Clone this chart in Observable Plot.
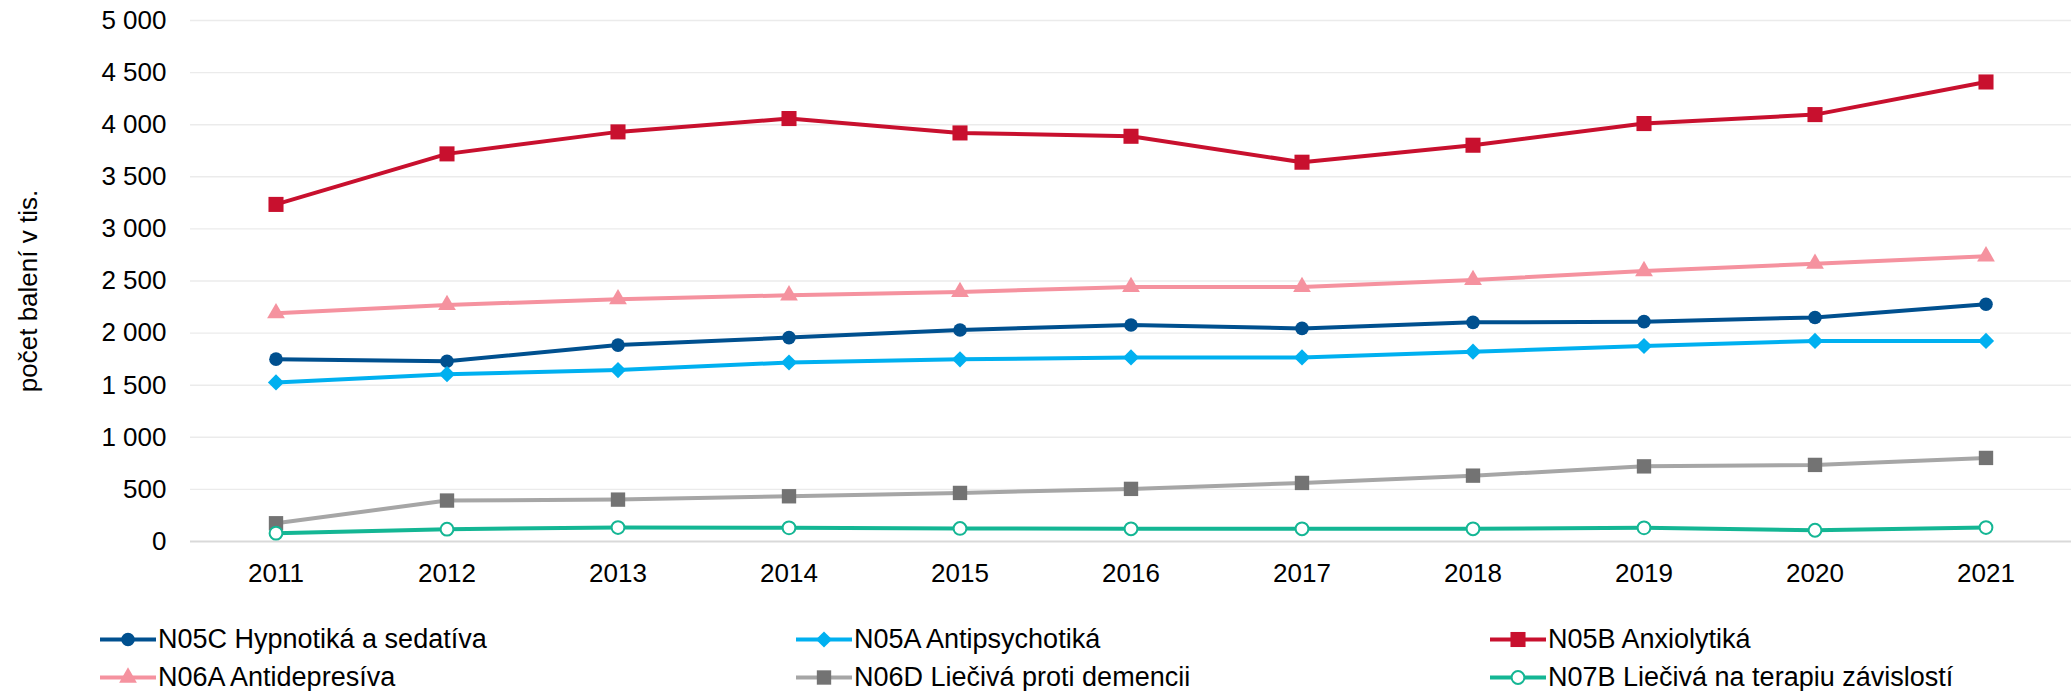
<!DOCTYPE html>
<html><head><meta charset="utf-8">
<script src="https://cdn.jsdelivr.net/npm/d3@7"></script>
<script src="https://cdn.jsdelivr.net/npm/@observablehq/plot@0.6"></script>
<style>
body{margin:0;background:#fff;font-family:"Liberation Sans",Arial,sans-serif;}
#chart{position:relative;width:2071px;height:691px;overflow:hidden;}
#legend{position:absolute;left:0;top:621px;width:2071px;height:74px;font-size:27px;color:#000;}
.item{position:absolute;display:flex;align-items:center;height:37px;white-space:nowrap;}
.item svg{margin-right:2px;display:block;}
</style></head><body><div id="chart"><div id="plot"></div><div id="legend"></div></div>
<script>
const years = [2011, 2012, 2013, 2014, 2015, 2016, 2017, 2018, 2019, 2020, 2021];
const seriesNames = [
  "N05C Hypnotiká a sedatíva",
  "N05A Antipsychotiká",
  "N05B Anxiolytiká",
  "N06A Antidepresíva",
  "N06D Liečivá proti demencii",
  "N07B Liečivá na terapiu závislostí"
];
const n05c = [1750, 1730, 1885, 1957, 2030, 2078, 2045, 2103, 2110, 2150, 2277];
const n05a = [1527, 1606, 1645, 1718, 1748, 1767, 1767, 1822, 1876, 1925, 1925];
const n05b = [3235, 3720, 3931, 4059, 3921, 3889, 3640, 3803, 4011, 4097, 4410];
const n06a = [2191, 2270, 2325, 2363, 2395, 2443, 2443, 2510, 2596, 2666, 2737];
const n06d = [175, 393, 402, 434, 466, 505, 562, 632, 721, 735, 802];
const n07b = [80, 118, 134, 131, 125, 122, 122, 122, 131, 108, 134];
const seriesValues = [n05c, n05a, n05b, n06a, n06d, n07b];
const yTicks = [0, 500, 1000, 1500, 2000, 2500, 3000, 3500, 4000, 4500, 5000];
const yTitle = "počet balení v tis.";

const lineColors   = ["#00508F", "#00B0F0", "#C8102E", "#F5929F", "#A6A6A6", "#14B694"];
const markerFills  = ["#00508F", "#00B0F0", "#C8102E", "#F5929F", "#737373", "#FFFFFF"];
const markerStroke = ["none", "none", "none", "none", "none", "#14B694"];
const markerSym    = ["circle", "diamond2", "square", "triangle", "square", "circle"];
const markerR      = [6.8, 7.3, 8.5, 6.6, 8.1, 6.4];

const fmt = d => d3.format(",")(d).replace(/,/g, "\u00a0");

const marks = [
  Plot.ruleY(yTicks.filter(d => d > 0), {stroke: "#EBEBEB", strokeWidth: 1.4}),
  Plot.ruleY([0], {stroke: "#D9D9D9", strokeWidth: 2}),
  Plot.axisY(yTicks, {tickSize: 0, tickPadding: 24, tickFormat: fmt, label: null}),
  Plot.axisX(years, {tickSize: 0, tickPadding: 22, tickFormat: d => String(d), label: null}),
  Plot.text([yTitle], {frameAnchor: "left", rotate: -90, dx: -162, dy: 10, textAnchor: "middle", lineAnchor: "middle", fill: "#000"})
];
seriesNames.forEach((name, i) => {
  const rows = years.map((y, j) => ({year: y, value: seriesValues[i][j], series: name}));
  marks.push(Plot.line(rows, {x: "year", y: "value", stroke: lineColors[i], strokeWidth: 4, strokeLinejoin: "round"}));
  marks.push(Plot.dot(rows, {x: "year", y: "value", symbol: markerSym[i], r: markerR[i], fill: markerFills[i], stroke: markerStroke[i], strokeWidth: markerStroke[i] === "none" ? 0 : 2}));
});

const chart = Plot.plot({
  width: 2071,
  height: 600,
  marginLeft: 190,
  marginRight: 0,
  marginTop: 20,
  marginBottom: 59,
  style: {fontSize: "26px", fontFamily: "'Liberation Sans', Arial, sans-serif", color: "#000", background: "#fff"},
  x: {type: "linear", domain: [2010.5, 2021.5]},
  y: {domain: [0, 5000]},
  marks
});
document.getElementById("plot").appendChild(chart);

// legend
const symMap = {circle: d3.symbolCircle, diamond2: d3.symbolDiamond2, square: d3.symbolSquare, triangle: d3.symbolTriangle};
const legendLeft = [100, 796, 1490];
const legend = document.getElementById("legend");
seriesNames.forEach((name, i) => {
  const col = i % 3, row = Math.floor(i / 3);
  const item = document.createElement("div");
  item.className = "item";
  item.style.left = legendLeft[col] + "px";
  item.style.top = (row * 38) + "px";
  const ns = "http://www.w3.org/2000/svg";
  const svg = document.createElementNS(ns, "svg");
  svg.setAttribute("width", 56); svg.setAttribute("height", 37);
  const ln = document.createElementNS(ns, "line");
  ln.setAttribute("x1", 0); ln.setAttribute("x2", 56); ln.setAttribute("y1", 18.5); ln.setAttribute("y2", 18.5);
  ln.setAttribute("stroke", lineColors[i]); ln.setAttribute("stroke-width", 4);
  svg.appendChild(ln);
  const p = document.createElementNS(ns, "path");
  p.setAttribute("d", d3.symbol(symMap[markerSym[i]], Math.PI * markerR[i] * markerR[i])());
  p.setAttribute("transform", "translate(28,18.5)");
  p.setAttribute("fill", markerFills[i]);
  if (markerStroke[i] !== "none") { p.setAttribute("stroke", markerStroke[i]); p.setAttribute("stroke-width", 2); }
  svg.appendChild(p);
  const t = document.createElement("span");
  t.textContent = name;
  item.appendChild(svg); item.appendChild(t);
  legend.appendChild(item);
});
</script></body></html>
